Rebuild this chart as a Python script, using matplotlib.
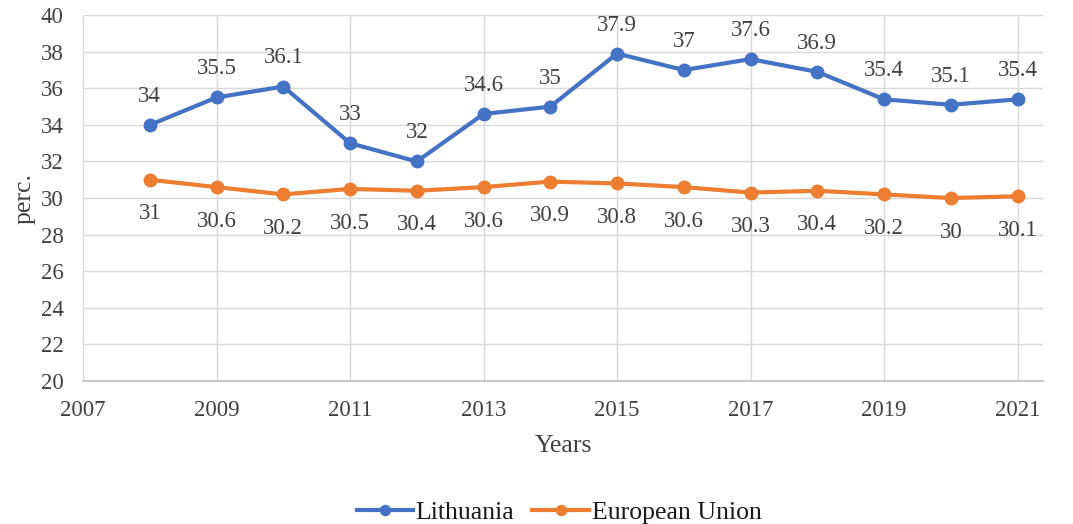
import numpy as np
import matplotlib.pyplot as plt

plt.rcParams['font.family'] = ['Liberation Serif', 'DejaVu Serif']

# ------------------------------------
# Data
# ------------------------------------
years = [2008, 2009, 2010, 2011, 2012, 2013, 2014, 2015, 2016, 2017, 2018, 2019, 2020, 2021]
lithuania = [34, 35.5, 36.1, 33, 32, 34.6, 35, 37.9, 37, 37.6, 36.9, 35.4, 35.1, 35.4]
eu = [31, 30.6, 30.2, 30.5, 30.4, 30.6, 30.9, 30.8, 30.6, 30.3, 30.4, 30.2, 30, 30.1]

blue = '#4472C4'
orange = '#ED7D31'
text_col = '#404040'

# ------------------------------------
# Plot
# ------------------------------------
fig = plt.figure(figsize=(10.73, 5.24), dpi=100)
ax = fig.add_axes([0.0774, 0.273, 0.8946, 0.698])

ax.plot(years, lithuania, color=blue, lw=3, marker='o', ms=9, label='Lithuania', zorder=3)
ax.plot(years, eu, color=orange, lw=3, marker='o', ms=9, label='European Union', zorder=3)

for x, v in zip(years, lithuania):
    ax.annotate(f'{v:g}', (x, v), xytext=(0, 13), textcoords='offset points',
                ha='center', va='bottom', fontsize=16.5, color=text_col)
for x, v in zip(years, eu):
    ax.annotate(f'{v:g}', (x, v), xytext=(0, -17), textcoords='offset points',
                ha='center', va='top', fontsize=16.5, color=text_col)

ax.set_xlim(2007, 2021.38)
ax.set_ylim(20, 40)
ax.set_xticks(np.arange(2007, 2022, 2))
ax.set_yticks(np.arange(20, 41, 2))
ax.grid(True, color='#d9d9d9', lw=1)
ax.set_axisbelow(True)

for s in ['top', 'right', 'left']:
    ax.spines[s].set_visible(False)
ax.spines['bottom'].set_color('#bfbfbf')
ax.spines['bottom'].set_linewidth(1.2)

ax.tick_params(length=0, labelsize=16.5, colors=text_col)
ax.tick_params(axis='x', pad=14)
ax.tick_params(axis='y', pad=14)

ax.set_xlabel('Years', fontsize=18.5, color=text_col, labelpad=10)
ax.set_ylabel('perc.', fontsize=18.5, color=text_col, labelpad=4)

leg = fig.legend(loc='lower center', ncol=2, frameon=False, fontsize=18.5,
                 bbox_to_anchor=(0.521, -0.045), handlelength=2.2, columnspacing=0.7,
                 handletextpad=0.1, markerscale=0.8, labelcolor='#1a1a1a')

plt.savefig('out.png', dpi=100)
